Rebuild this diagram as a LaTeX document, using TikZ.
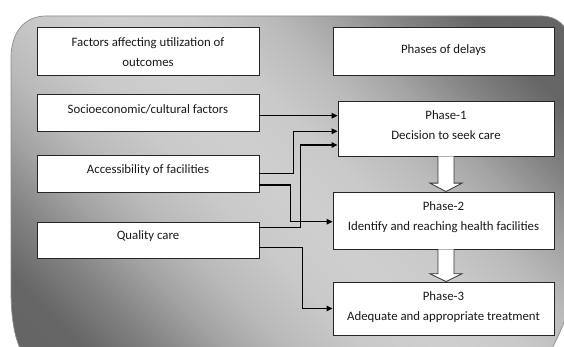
\documentclass[tikz,border=0pt]{standalone}
\usepackage{fontspec}
\setmainfont{Carlito}
\usetikzlibrary{arrows.meta,calc}
\pgfdeclareverticalshading{bgshade}{100bp}{color(0bp)=(black!62); color(22bp)=(black!60); color(28bp)=(black!48); color(33bp)=(black!36); color(38bp)=(black!27); color(44bp)=(black!21); color(50bp)=(black!19); color(56bp)=(black!21); color(62bp)=(black!27); color(67bp)=(black!36); color(72bp)=(black!48); color(78bp)=(black!60); color(100bp)=(black!62)}
\begin{document}
\begin{tikzpicture}[x=1pt,y=-1pt,
  box/.style={draw=black!85, fill=white, line width=0.9pt, inner sep=0pt},
  lbl/.style={font=\fontsize{12.8}{20}\selectfont, text=black!90, align=center, inner sep=0pt},
  conn/.style={draw=black, line width=1.1pt, -{Triangle[length=6pt,width=5.5pt]}},
  blk/.style={draw=black!80, fill=white, line width=0.8pt, line join=miter}]
\useasboundingbox (0,0) rectangle (564,347);
\begin{scope}
\clip (0,0) rectangle (564,347);
\path[draw=black!45, line width=0.7pt, shading=bgshade, shading angle=-45]
  (11,290) -- (11,58) .. controls (11,33) and (24,16) .. (46,16)
  -- (542,16) .. controls (556,16) and (568,26) .. (570,40)
  -- (571,290) .. controls (571,310) and (562,330) .. (545,362)
  -- (40,372) .. controls (20,360) and (11,335) .. (11,290) -- cycle;
\end{scope}

\node[box, minimum width=222pt, minimum height=48pt] (fac) at (148,51) {};
\node[box, minimum width=221pt, minimum height=48pt] (pha) at (443.5,51) {};
\node[box, minimum width=222pt, minimum height=37pt] (soc) at (148,112.5) {};
\node[box, minimum width=222pt, minimum height=37pt] (acc) at (148,173.5) {};
\node[box, minimum width=222pt, minimum height=36pt] (qual) at (148,240) {};
\node[box, minimum width=216pt, minimum height=55pt] (p1) at (446,128.5) {};
\node[box, minimum width=221pt, minimum height=57pt] (p2) at (443.5,220.5) {};
\node[box, minimum width=221pt, minimum height=53pt] (p3) at (443.5,308.5) {};

\node[lbl] (facT) at (148,51.7) {Factors affecting utilization of\\outcomes};
\node[lbl] (phaT) at (443.5,50) {Phases of delays};
\node[lbl] (socT) at (148,109.3) {Socioeconomic/cultural factors};
\node[lbl] (accT) at (148,170) {Accessibility of facilities};
\node[lbl] (qualT) at (148,236.5) {Quality care};
\node[lbl] (p1T) at (446,125) {Phase-1\\Decision to seek care};
\node[lbl] (p2T) at (443.5,216.7) {Phase-2\\Identify and reaching health facilities};
\node[lbl] (p3T) at (443.5,306.7) {Phase-3\\Adequate and appropriate treatment};

\draw[conn] ($(soc.east)+(0,3.2)$) -- ($(p1.west)+(0,-12.8)$);
\draw[conn] ($(acc.east)+(0,-0.2)$) -- ++(34.3,0) |- ($(p1.west)+(0,2.8)$);
\draw[conn] ($(qual.east)+(0,-12.3)$) -- ++(41,0) |- ($(p1.west)+(0,16.5)$);
\draw[conn] ($(acc.east)+(0,11.5)$) -- ++(31.3,0) |- ($(p2.west)+(0,1.2)$);
\draw[conn] ($(qual.east)+(0,7.3)$) -- ++(42.7,0) |- (p3.west);

\draw[blk] ($(p1.south)+(-8,0)$) -- ($(p1.south)+(-8,26.7)$) -- ($(p1.south)+(-16,26.7)$)
  -- (p1.south |- p2.north) -- ($(p1.south)+(16,26.7)$) -- ($(p1.south)+(8,26.7)$)
  -- ($(p1.south)+(8,0)$);
\draw[blk] ($(p2.south)+(-5.5,0)$) -- ($(p2.south)+(-5.5,24.3)$) -- ($(p2.south)+(-13.5,24.3)$)
  -- (p1.south |- p3.north) -- ($(p2.south)+(18.5,24.3)$) -- ($(p2.south)+(10.5,24.3)$)
  -- ($(p2.south)+(10.5,0)$);
\end{tikzpicture}
\end{document}
